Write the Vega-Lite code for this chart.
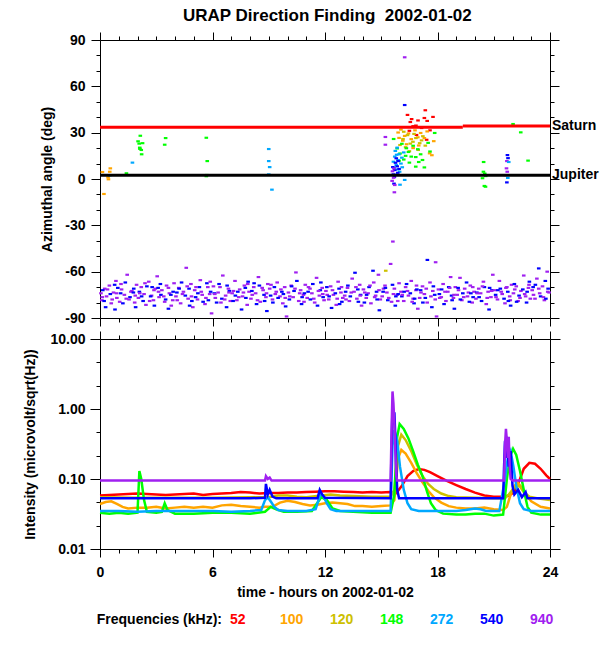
{
  "$schema": "https://vega.github.io/schema/vega-lite/v6.json",
  "autosize": {"type": "none"},
  "padding": {"left": 100, "top": 40, "right": 500, "bottom": 610},
  "title": {"text": "URAP Direction Finding \u00a02002-01-02", "anchor": "start", "frame": "group", "offset": 7, "dx": 83},
  "config": {
    "font": "Liberation Sans",
    "view": {"stroke": null},
    "axis": {
      "domainColor": "black", "tickColor": "black", "labelColor": "black", "titleColor": "black",
      "labelFont": "Liberation Sans", "titleFont": "Liberation Sans",
      "labelFontSize": 14, "titleFontSize": 14, "labelFontWeight": "bold", "titleFontWeight": "bold",
      "grid": false, "labelFlush": false, "labelOverlap": false, "domainWidth": 1, "tickWidth": 1
    },
    "title": {"font": "Liberation Sans", "fontSize": 17, "fontWeight": "bold", "color": "black"}
  },
  "bounds": "flush",
  "spacing": 21,
  "datasets": {
    "bodies": [
      {"body": "Saturn", "t0": 0, "t1": 19.35, "a": 33.5},
      {"body": "Saturn", "t0": 19.35, "t1": 24, "a": 34.3},
      {"body": "Jupiter", "t0": 0, "t1": 24, "a": 2.4}
    ],
    "freqs": [{"f": "52"}, {"f": "100"}, {"f": "120"}, {"f": "148"}, {"f": "272"}, {"f": "540"}, {"f": "940"}],
    "pts": [
      {"t":0.13,"a":4.5,"f":"100"},{"t":0.52,"a":4.7,"f":"100"},{"t":0.55,"a":6.9,"f":"100"},{"t":0.43,"a":1.1,"f":"100"},{"t":0.45,"a":-0.2,"f":"100"},{"t":0.21,"a":-9.7,"f":"100"},
      {"t":0.52,"a":2.3,"f":"272"},{"t":1.73,"a":10.6,"f":"272"},{"t":1.41,"a":3.7,"f":"148"},
      {"t":2.15,"a":28,"f":"148"},{"t":2.03,"a":24.4,"f":"148"},{"t":2.09,"a":22.9,"f":"148"},{"t":2.27,"a":23.2,"f":"148"},{"t":2.12,"a":20.3,"f":"148"},{"t":2.2,"a":18.8,"f":"148"},{"t":2.22,"a":16,"f":"148"},{"t":2.13,"a":19.5,"f":"148"},
      {"t":3.5,"a":26.5,"f":"148"},{"t":3.45,"a":22.2,"f":"148"},{"t":5.67,"a":26.7,"f":"148"},{"t":5.72,"a":11.6,"f":"148"},{"t":5.7,"a":2.6,"f":"148"},{"t":5.67,"a":1.8,"f":"148"},
      {"t":9.0,"a":19.4,"f":"272"},{"t":9.0,"a":11.6,"f":"272"},{"t":9.05,"a":7.7,"f":"272"},{"t":9.0,"a":3,"f":"272"},{"t":9.17,"a":-6.9,"f":"272"},
      {"t":15.22,"a":27.2,"f":"940"},{"t":15.22,"a":22.2,"f":"940"},
      {"t":16.4,"a":41.5,"f":"52"},{"t":16.62,"a":38.8,"f":"52"},{"t":16.96,"a":37.9,"f":"52"},{"t":17.35,"a":44.5,"f":"52"},{"t":17.45,"a":37.6,"f":"52"},{"t":16.55,"a":36.9,"f":"52"},{"t":16.85,"a":34.6,"f":"52"},{"t":17.76,"a":40.2,"f":"52"},{"t":16.5,"a":31.2,"f":"52"},{"t":16.88,"a":28.5,"f":"52"},{"t":17.42,"a":25.4,"f":"52"},{"t":17.3,"a":39.5,"f":"52"},{"t":16.7,"a":34.2,"f":"52"},{"t":17.15,"a":33.0,"f":"52"},{"t":17.6,"a":31.5,"f":"52"},
      {"t":15.9,"a":30.1,"f":"100"},{"t":16.05,"a":32.0,"f":"100"},{"t":16.25,"a":27.9,"f":"100"},{"t":16.45,"a":29.5,"f":"100"},{"t":16.6,"a":25.8,"f":"100"},{"t":16.8,"a":31.5,"f":"100"},{"t":16.95,"a":27.0,"f":"100"},{"t":17.1,"a":29.8,"f":"100"},{"t":17.3,"a":26.5,"f":"100"},{"t":17.58,"a":16.6,"f":"100"},{"t":17.7,"a":15.4,"f":"100"},{"t":17.8,"a":24.5,"f":"100"},{"t":16.35,"a":22.5,"f":"100"},{"t":16.15,"a":24.8,"f":"100"},{"t":17.0,"a":21.7,"f":"100"},{"t":16.7,"a":20.0,"f":"100"},{"t":17.45,"a":30.8,"f":"100"},{"t":15.95,"a":26.6,"f":"100"},
      {"t":16.16,"a":25.9,"f":"120"},{"t":16.69,"a":24.1,"f":"120"},{"t":17.22,"a":27.7,"f":"120"},{"t":16.97,"a":18.8,"f":"120"},{"t":16.4,"a":28.4,"f":"120"},{"t":16.55,"a":22.9,"f":"120"},{"t":16.3,"a":20.6,"f":"120"},{"t":16.85,"a":26.5,"f":"120"},{"t":17.05,"a":23.2,"f":"120"},{"t":16.0,"a":22.0,"f":"120"},{"t":16.75,"a":29.2,"f":"120"},{"t":17.35,"a":21.6,"f":"120"},{"t":16.2,"a":30.6,"f":"120"},{"t":16.5,"a":18.0,"f":"120"},{"t":17.15,"a":25.0,"f":"120"},{"t":15.24,"a":-59.4,"f":"120"},
      {"t":15.66,"a":25.9,"f":"148"},{"t":16.34,"a":19.9,"f":"148"},{"t":16.6,"a":14.5,"f":"148"},{"t":16.84,"a":14.2,"f":"148"},{"t":17.85,"a":29.8,"f":"148"},{"t":17.5,"a":23.4,"f":"148"},{"t":16.84,"a":8.0,"f":"148"},{"t":17.3,"a":7.5,"f":"148"},{"t":16.0,"a":16.5,"f":"148"},{"t":16.2,"a":12.6,"f":"148"},{"t":16.45,"a":17.5,"f":"148"},{"t":16.7,"a":21.5,"f":"148"},{"t":16.95,"a":19.3,"f":"148"},{"t":17.1,"a":16.0,"f":"148"},{"t":17.2,"a":12.3,"f":"148"},{"t":15.85,"a":19.8,"f":"148"},{"t":16.1,"a":22.8,"f":"148"},{"t":16.5,"a":10.6,"f":"148"},{"t":15.95,"a":11.8,"f":"148"},{"t":17.6,"a":17.8,"f":"148"},{"t":17.0,"a":11.0,"f":"148"},{"t":16.3,"a":15.0,"f":"148"},
      {"t":15.72,"a":14.5,"f":"272"},{"t":15.8,"a":9.0,"f":"272"},{"t":15.98,"a":4.7,"f":"272"},{"t":16.25,"a":-0.6,"f":"272"},{"t":15.75,"a":18.2,"f":"272"},{"t":15.85,"a":20.3,"f":"272"},{"t":15.9,"a":12.3,"f":"272"},{"t":16.05,"a":10.0,"f":"272"},{"t":15.7,"a":7.0,"f":"272"},{"t":15.95,"a":16.0,"f":"272"},{"t":16.1,"a":13.8,"f":"272"},{"t":15.78,"a":2.8,"f":"272"},{"t":15.88,"a":6.2,"f":"272"},{"t":16.12,"a":7.6,"f":"272"},{"t":15.65,"a":11.2,"f":"272"},{"t":16.0,"a":-3.7,"f":"272"},{"t":16.2,"a":17.2,"f":"272"},{"t":15.82,"a":15.7,"f":"272"},
      {"t":15.8,"a":13.4,"f":"540"},{"t":15.76,"a":10.5,"f":"540"},{"t":15.72,"a":5.8,"f":"540"},{"t":15.65,"a":3.0,"f":"540"},{"t":15.85,"a":8.2,"f":"540"},{"t":15.9,"a":11.6,"f":"540"},{"t":15.7,"a":1.4,"f":"540"},{"t":15.95,"a":6.5,"f":"540"},{"t":16.25,"a":47.9,"f":"540"},{"t":15.68,"a":-3.0,"f":"540"},{"t":15.62,"a":7.7,"f":"540"},{"t":15.88,"a":4.0,"f":"540"},
      {"t":15.6,"a":5.0,"f":"940"},{"t":15.66,"a":0.8,"f":"940"},{"t":15.72,"a":-3.9,"f":"940"},{"t":15.7,"a":-8.6,"f":"940"},{"t":15.62,"a":2.6,"f":"940"},{"t":15.68,"a":6.8,"f":"940"},{"t":15.58,"a":-1.2,"f":"940"},{"t":16.25,"a":78.8,"f":"940"},{"t":15.62,"a":-40.5,"f":"940"},
      {"t":22.03,"a":35.6,"f":"148"},{"t":22.44,"a":30.2,"f":"148"},{"t":22.83,"a":11.9,"f":"148"},{"t":20.46,"a":11.0,"f":"148"},{"t":20.45,"a":4.7,"f":"148"},{"t":20.57,"a":1.9,"f":"148"},{"t":20.4,"a":0.5,"f":"148"},{"t":20.5,"a":-4.5,"f":"148"},{"t":20.56,"a":-5.0,"f":"148"},{"t":20.52,"a":3.5,"f":"148"},
      {"t":21.73,"a":15.5,"f":"540"},{"t":21.7,"a":-2.2,"f":"540"},{"t":21.76,"a":13.5,"f":"540"},
      {"t":21.7,"a":11.6,"f":"940"},{"t":21.68,"a":6.9,"f":"940"},{"t":21.62,"a":2.5,"f":"940"},{"t":21.72,"a":4.7,"f":"940"},
      {"t":21.75,"a":0.7,"f":"272"},{"t":21.8,"a":11.0,"f":"272"},
      {"t":0.05,"a":-74,"f":"940"},{"t":0.1,"a":-78.5,"f":"940"},{"t":0.25,"a":-71,"f":"940"},{"t":0.35,"a":-76,"f":"940"},{"t":0.5,"a":-69,"f":"940"},{"t":0.6,"a":-80.5,"f":"940"},{"t":0.72,"a":-73.5,"f":"940"},{"t":0.85,"a":-66,"f":"940"},{"t":0.9,"a":-77,"f":"940"},
      {"t":0.15,"a":-72,"f":"540"},{"t":0.3,"a":-83,"f":"540"},{"t":0.55,"a":-74.5,"f":"540"},{"t":0.8,"a":-84.5,"f":"540"},{"t":0.95,"a":-70.5,"f":"540"},
      {"t":1.05,"a":-79.5,"f":"940"},{"t":1.15,"a":-71.5,"f":"940"},{"t":1.3,"a":-75,"f":"940"},{"t":1.45,"a":-62,"f":"940"},{"t":1.55,"a":-78,"f":"940"},{"t":1.7,"a":-72.5,"f":"940"},{"t":1.85,"a":-80,"f":"940"},{"t":1.95,"a":-68.5,"f":"940"},
      {"t":1.1,"a":-74,"f":"540"},{"t":1.35,"a":-67,"f":"540"},{"t":1.6,"a":-76.5,"f":"540"},{"t":1.8,"a":-71,"f":"540"},{"t":1.9,"a":-83,"f":"540"},
      {"t":2.05,"a":-77,"f":"940"},{"t":2.2,"a":-70,"f":"940"},{"t":2.35,"a":-74.5,"f":"940"},{"t":2.45,"a":-81.5,"f":"940"},{"t":2.6,"a":-66.5,"f":"940"},{"t":2.75,"a":-75.5,"f":"940"},{"t":2.85,"a":-78.5,"f":"940"},{"t":2.95,"a":-71,"f":"940"},
      {"t":2.1,"a":-73,"f":"540"},{"t":2.3,"a":-79,"f":"540"},{"t":2.5,"a":-69.5,"f":"540"},{"t":2.7,"a":-76,"f":"540"},{"t":2.9,"a":-82,"f":"540"},
      {"t":3.05,"a":-63,"f":"940"},{"t":3.15,"a":-76.5,"f":"940"},{"t":3.3,"a":-72,"f":"940"},{"t":3.45,"a":-79.5,"f":"940"},{"t":3.55,"a":-69,"f":"940"},{"t":3.7,"a":-74,"f":"940"},{"t":3.8,"a":-82,"f":"940"},{"t":3.95,"a":-67.5,"f":"940"},
      {"t":3.1,"a":-70.5,"f":"540"},{"t":3.25,"a":-75,"f":"540"},{"t":3.5,"a":-78,"f":"540"},{"t":3.65,"a":-84,"f":"540"},{"t":3.9,"a":-73,"f":"540"},
      {"t":4.05,"a":-76,"f":"940"},{"t":4.2,"a":-70.5,"f":"940"},{"t":4.3,"a":-80.5,"f":"940"},{"t":4.45,"a":-73,"f":"940"},{"t":4.6,"a":-57.5,"f":"940"},{"t":4.7,"a":-77.5,"f":"940"},{"t":4.85,"a":-68,"f":"940"},{"t":4.95,"a":-83,"f":"940"},
      {"t":4.1,"a":-73.5,"f":"540"},{"t":4.35,"a":-67,"f":"540"},{"t":4.55,"a":-75.5,"f":"540"},{"t":4.75,"a":-71,"f":"540"},{"t":4.9,"a":-79,"f":"540"},
      {"t":5.05,"a":-72,"f":"940"},{"t":5.2,"a":-78,"f":"940"},{"t":5.35,"a":-65.5,"f":"940"},{"t":5.45,"a":-75,"f":"940"},{"t":5.6,"a":-81,"f":"940"},{"t":5.75,"a":-70,"f":"940"},{"t":5.85,"a":-74.5,"f":"940"},{"t":5.95,"a":-87,"f":"940"},
      {"t":5.1,"a":-76.5,"f":"540"},{"t":5.3,"a":-70,"f":"540"},{"t":5.5,"a":-79.5,"f":"540"},{"t":5.7,"a":-67.5,"f":"540"},{"t":5.9,"a":-73,"f":"540"},
      {"t":6.05,"a":-69.5,"f":"940"},{"t":6.15,"a":-77,"f":"940"},{"t":6.3,"a":-73.5,"f":"940"},{"t":6.45,"a":-80,"f":"940"},{"t":6.55,"a":-62.5,"f":"940"},{"t":6.7,"a":-75.5,"f":"940"},{"t":6.85,"a":-71,"f":"940"},{"t":6.95,"a":-79,"f":"940"},
      {"t":6.1,"a":-74,"f":"540"},{"t":6.35,"a":-68,"f":"540"},{"t":6.5,"a":-77.5,"f":"540"},{"t":6.75,"a":-83,"f":"540"},{"t":6.9,"a":-72.5,"f":"540"},
      {"t":7.05,"a":-74,"f":"940"},{"t":7.2,"a":-66,"f":"940"},{"t":7.3,"a":-78.5,"f":"940"},{"t":7.45,"a":-71.5,"f":"940"},{"t":7.6,"a":-76,"f":"940"},{"t":7.7,"a":-69,"f":"940"},{"t":7.85,"a":-81.5,"f":"940"},{"t":7.95,"a":-73,"f":"940"},
      {"t":7.1,"a":-79,"f":"540"},{"t":7.35,"a":-73,"f":"540"},{"t":7.55,"a":-84.5,"f":"540"},{"t":7.75,"a":-70.5,"f":"540"},{"t":7.9,"a":-66.5,"f":"540"},
      {"t":8.05,"a":-77.5,"f":"940"},{"t":8.2,"a":-70,"f":"940"},{"t":8.3,"a":-74,"f":"940"},{"t":8.45,"a":-63.5,"f":"940"},{"t":8.55,"a":-79.5,"f":"940"},{"t":8.7,"a":-72,"f":"940"},{"t":8.85,"a":-76.5,"f":"940"},{"t":8.95,"a":-68,"f":"940"},
      {"t":8.1,"a":-72.5,"f":"540"},{"t":8.35,"a":-81,"f":"540"},{"t":8.5,"a":-69,"f":"540"},{"t":8.75,"a":-75,"f":"540"},{"t":8.9,"a":-85.5,"f":"540"},
      {"t":9.05,"a":-71,"f":"940"},{"t":9.2,"a":-78,"f":"940"},{"t":9.35,"a":-74.5,"f":"940"},{"t":9.45,"a":-67,"f":"940"},{"t":9.6,"a":-76,"f":"940"},{"t":9.75,"a":-80.5,"f":"940"},{"t":9.85,"a":-70,"f":"940"},{"t":9.95,"a":-89,"f":"940"},
      {"t":9.1,"a":-75.5,"f":"540"},{"t":9.3,"a":-70,"f":"540"},{"t":9.5,"a":-77,"f":"540"},{"t":9.7,"a":-73,"f":"540"},{"t":9.9,"a":-82.5,"f":"540"},
      {"t":10.05,"a":-73.5,"f":"940"},{"t":10.2,"a":-69,"f":"940"},{"t":10.3,"a":-76.5,"f":"940"},{"t":10.45,"a":-60.5,"f":"940"},{"t":10.6,"a":-79,"f":"940"},{"t":10.7,"a":-72,"f":"940"},{"t":10.85,"a":-75,"f":"940"},{"t":10.95,"a":-68.5,"f":"940"},
      {"t":10.1,"a":-78,"f":"540"},{"t":10.35,"a":-72.5,"f":"540"},{"t":10.5,"a":-66,"f":"540"},{"t":10.75,"a":-81,"f":"540"},{"t":10.9,"a":-74,"f":"540"},
      {"t":11.05,"a":-77,"f":"940"},{"t":11.2,"a":-71,"f":"940"},{"t":11.3,"a":-74,"f":"940"},{"t":11.45,"a":-80,"f":"940"},{"t":11.55,"a":-64,"f":"940"},{"t":11.7,"a":-75.5,"f":"940"},{"t":11.85,"a":-70.5,"f":"940"},{"t":11.95,"a":-78.5,"f":"940"},
      {"t":11.1,"a":-73,"f":"540"},{"t":11.35,"a":-68,"f":"540"},{"t":11.6,"a":-82,"f":"540"},{"t":11.75,"a":-72,"f":"540"},{"t":11.9,"a":-76.5,"f":"540"},
      {"t":12.05,"a":-72.5,"f":"940"},{"t":12.2,"a":-78,"f":"940"},{"t":12.3,"a":-69.5,"f":"940"},{"t":12.45,"a":-75,"f":"940"},{"t":12.6,"a":-81.5,"f":"940"},{"t":12.7,"a":-66.5,"f":"940"},{"t":12.85,"a":-73.5,"f":"940"},{"t":12.95,"a":-77,"f":"940"},
      {"t":12.1,"a":-70,"f":"540"},{"t":12.35,"a":-83.5,"f":"540"},{"t":12.55,"a":-74,"f":"540"},{"t":12.75,"a":-71,"f":"540"},{"t":12.9,"a":-79.5,"f":"540"},
      {"t":13.05,"a":-75.5,"f":"940"},{"t":13.2,"a":-70.5,"f":"940"},{"t":13.3,"a":-79,"f":"940"},{"t":13.45,"a":-64.5,"f":"940"},{"t":13.55,"a":-73,"f":"940"},{"t":13.7,"a":-77.5,"f":"940"},{"t":13.85,"a":-68.5,"f":"940"},{"t":13.95,"a":-82,"f":"940"},
      {"t":13.1,"a":-73,"f":"540"},{"t":13.35,"a":-76,"f":"540"},{"t":13.6,"a":-60.7,"f":"540"},{"t":13.75,"a":-71.5,"f":"540"},{"t":13.9,"a":-75,"f":"540"},
      {"t":14.05,"a":-71.5,"f":"940"},{"t":14.2,"a":-77,"f":"940"},{"t":14.3,"a":-74,"f":"940"},{"t":14.45,"a":-80.5,"f":"940"},{"t":14.6,"a":-67,"f":"940"},{"t":14.7,"a":-75.5,"f":"940"},{"t":14.85,"a":-62,"f":"940"},{"t":14.95,"a":-78,"f":"940"},
      {"t":14.1,"a":-80,"f":"540"},{"t":14.35,"a":-70,"f":"540"},{"t":14.56,"a":-59.4,"f":"540"},{"t":14.75,"a":-73,"f":"540"},{"t":14.9,"a":-85,"f":"540"},
      {"t":15.05,"a":-76,"f":"940"},{"t":15.2,"a":-69,"f":"940"},{"t":15.3,"a":-73.5,"f":"940"},{"t":15.5,"a":-55,"f":"940"},{"t":15.55,"a":-79.5,"f":"940"},{"t":15.7,"a":-71,"f":"940"},{"t":15.85,"a":-75,"f":"940"},{"t":15.95,"a":-67.5,"f":"940"},
      {"t":15.1,"a":-73,"f":"540"},{"t":15.35,"a":-78.5,"f":"540"},{"t":15.6,"a":-68.5,"f":"540"},{"t":15.75,"a":-82,"f":"540"},{"t":15.9,"a":-74.5,"f":"540"},
      {"t":16.05,"a":-73,"f":"940"},{"t":16.2,"a":-79,"f":"940"},{"t":16.3,"a":-70,"f":"940"},{"t":16.45,"a":-75.5,"f":"940"},{"t":16.6,"a":-66,"f":"940"},{"t":16.7,"a":-77.5,"f":"940"},{"t":16.85,"a":-72,"f":"940"},{"t":16.95,"a":-84,"f":"940"},
      {"t":16.1,"a":-76,"f":"540"},{"t":16.35,"a":-68,"f":"540"},{"t":16.55,"a":-74,"f":"540"},{"t":16.75,"a":-80.5,"f":"540"},{"t":16.9,"a":-71.5,"f":"540"},
      {"t":17.05,"a":-77,"f":"940"},{"t":17.2,"a":-69.5,"f":"940"},{"t":17.3,"a":-74.5,"f":"940"},{"t":17.45,"a":-80,"f":"940"},{"t":17.6,"a":-67,"f":"940"},{"t":17.75,"a":-72.5,"f":"940"},{"t":17.9,"a":-53.9,"f":"940"},{"t":17.95,"a":-89,"f":"940"},
      {"t":17.1,"a":-72,"f":"540"},{"t":17.35,"a":-77,"f":"540"},{"t":17.46,"a":-52.4,"f":"540"},{"t":17.7,"a":-83,"f":"540"},{"t":17.85,"a":-75,"f":"540"},
      {"t":18.05,"a":-71.5,"f":"940"},{"t":18.2,"a":-76.5,"f":"940"},{"t":18.3,"a":-68,"f":"940"},{"t":18.45,"a":-79,"f":"940"},{"t":18.55,"a":-73,"f":"940"},{"t":18.7,"a":-63.5,"f":"940"},{"t":18.85,"a":-77,"f":"940"},{"t":18.95,"a":-70,"f":"940"},
      {"t":18.1,"a":-74.5,"f":"540"},{"t":18.35,"a":-81,"f":"540"},{"t":18.6,"a":-70,"f":"540"},{"t":18.75,"a":-75.5,"f":"540"},{"t":18.9,"a":-84,"f":"540"},
      {"t":19.05,"a":-75,"f":"940"},{"t":19.2,"a":-64,"f":"940"},{"t":19.3,"a":-78.5,"f":"940"},{"t":19.45,"a":-71,"f":"940"},{"t":19.6,"a":-76,"f":"940"},{"t":19.75,"a":-69,"f":"940"},{"t":19.85,"a":-80,"f":"940"},{"t":19.95,"a":-73,"f":"940"},
      {"t":19.1,"a":-70.5,"f":"540"},{"t":19.35,"a":-74,"f":"540"},{"t":19.55,"a":-67,"f":"540"},{"t":19.7,"a":-79.5,"f":"540"},{"t":19.9,"a":-76.5,"f":"540"},
      {"t":20.05,"a":-77.5,"f":"940"},{"t":20.2,"a":-71,"f":"940"},{"t":20.3,"a":-74,"f":"940"},{"t":20.45,"a":-66.5,"f":"940"},{"t":20.6,"a":-81,"f":"940"},{"t":20.7,"a":-73,"f":"940"},{"t":20.85,"a":-76.5,"f":"940"},{"t":20.95,"a":-62,"f":"940"},
      {"t":20.1,"a":-73.5,"f":"540"},{"t":20.35,"a":-79,"f":"540"},{"t":20.5,"a":-70,"f":"540"},{"t":20.75,"a":-84.5,"f":"540"},{"t":20.9,"a":-72,"f":"540"},
      {"t":21.05,"a":-72,"f":"940"},{"t":21.2,"a":-78,"f":"940"},{"t":21.3,"a":-66,"f":"940"},{"t":21.45,"a":-74.5,"f":"940"},{"t":21.6,"a":-80.5,"f":"940"},{"t":21.7,"a":-70,"f":"940"},{"t":21.85,"a":-76,"f":"940"},{"t":21.95,"a":-68.5,"f":"940"},
      {"t":21.1,"a":-75,"f":"540"},{"t":21.35,"a":-71,"f":"540"},{"t":21.55,"a":-77.5,"f":"540"},{"t":21.75,"a":-73,"f":"540"},{"t":21.9,"a":-82,"f":"540"},
      {"t":22.05,"a":-74,"f":"940"},{"t":22.2,"a":-69.5,"f":"940"},{"t":22.3,"a":-79,"f":"940"},{"t":22.45,"a":-72.5,"f":"940"},{"t":22.6,"a":-62.5,"f":"940"},{"t":22.7,"a":-76,"f":"940"},{"t":22.85,"a":-70.5,"f":"940"},{"t":22.95,"a":-77.5,"f":"940"},
      {"t":22.1,"a":-68,"f":"540"},{"t":22.35,"a":-75.5,"f":"540"},{"t":22.55,"a":-71.5,"f":"540"},{"t":22.75,"a":-80,"f":"540"},{"t":22.9,"a":-66.5,"f":"540"},
      {"t":23.05,"a":-72,"f":"940"},{"t":23.2,"a":-77.5,"f":"940"},{"t":23.3,"a":-64.5,"f":"940"},{"t":23.45,"a":-74,"f":"940"},{"t":23.6,"a":-69.5,"f":"940"},{"t":23.7,"a":-78.5,"f":"940"},{"t":23.85,"a":-60,"f":"940"},{"t":23.95,"a":-73.5,"f":"940"},
      {"t":23.1,"a":-70,"f":"540"},{"t":23.4,"a":-57.9,"f":"540"},{"t":23.5,"a":-76,"f":"540"},{"t":23.75,"a":-66,"f":"540"},{"t":23.9,"a":-71,"f":"540"},
      {"t":0.12,"a":-76.5,"f":"940"},{"t":0.4,"a":-71.5,"f":"940"},{"t":0.65,"a":-78,"f":"940"},{"t":0.88,"a":-74,"f":"940"},{"t":0.22,"a":-79,"f":"540"},{"t":0.78,"a":-68.5,"f":"540"},
      {"t":1.12,"a":-68,"f":"940"},{"t":1.4,"a":-77.5,"f":"940"},{"t":1.65,"a":-73,"f":"940"},{"t":1.88,"a":-75.5,"f":"940"},{"t":1.22,"a":-80.5,"f":"540"},{"t":1.78,"a":-73.5,"f":"540"},
      {"t":2.12,"a":-74,"f":"940"},{"t":2.4,"a":-67.5,"f":"940"},{"t":2.65,"a":-79,"f":"940"},{"t":2.88,"a":-72,"f":"940"},{"t":2.22,"a":-76,"f":"540"},{"t":2.78,"a":-70,"f":"540"},
      {"t":3.12,"a":-73,"f":"940"},{"t":3.4,"a":-76,"f":"940"},{"t":3.65,"a":-70.5,"f":"940"},{"t":3.88,"a":-78.5,"f":"940"},{"t":3.22,"a":-68,"f":"540"},{"t":3.78,"a":-75,"f":"540"},
      {"t":4.12,"a":-78.5,"f":"940"},{"t":4.4,"a":-74.5,"f":"940"},{"t":4.65,"a":-69.5,"f":"940"},{"t":4.88,"a":-76,"f":"940"},{"t":4.22,"a":-71,"f":"540"},{"t":4.78,"a":-82,"f":"540"},
      {"t":5.12,"a":-70,"f":"940"},{"t":5.4,"a":-73,"f":"940"},{"t":5.65,"a":-77,"f":"940"},{"t":5.88,"a":-66.5,"f":"940"},{"t":5.22,"a":-74,"f":"540"},{"t":5.78,"a":-78.5,"f":"540"},
      {"t":6.12,"a":-74.5,"f":"940"},{"t":6.4,"a":-70,"f":"940"},{"t":6.65,"a":-78,"f":"940"},{"t":6.88,"a":-73.5,"f":"940"},{"t":6.22,"a":-80,"f":"540"},{"t":6.78,"a":-69,"f":"540"},
      {"t":7.12,"a":-72.5,"f":"940"},{"t":7.4,"a":-76.5,"f":"940"},{"t":7.65,"a":-73.5,"f":"940"},{"t":7.88,"a":-68,"f":"940"},{"t":7.22,"a":-75.5,"f":"540"},{"t":7.78,"a":-77,"f":"540"},
      {"t":8.12,"a":-75,"f":"940"},{"t":8.4,"a":-78.5,"f":"940"},{"t":8.65,"a":-70.5,"f":"940"},{"t":8.88,"a":-74,"f":"940"},{"t":8.22,"a":-67.5,"f":"540"},{"t":8.78,"a":-79,"f":"540"},
      {"t":9.12,"a":-68.5,"f":"940"},{"t":9.4,"a":-73,"f":"940"},{"t":9.65,"a":-71.5,"f":"940"},{"t":9.88,"a":-77,"f":"940"},{"t":9.22,"a":-80,"f":"540"},{"t":9.78,"a":-74.5,"f":"540"},
      {"t":10.12,"a":-76,"f":"940"},{"t":10.4,"a":-71,"f":"940"},{"t":10.65,"a":-74,"f":"940"},{"t":10.88,"a":-79.5,"f":"940"},{"t":10.22,"a":-69.5,"f":"540"},{"t":10.78,"a":-76.5,"f":"540"},
      {"t":11.12,"a":-70,"f":"940"},{"t":11.4,"a":-77.5,"f":"940"},{"t":11.65,"a":-72.5,"f":"940"},{"t":11.88,"a":-74.5,"f":"940"},{"t":11.22,"a":-78,"f":"540"},{"t":11.78,"a":-67,"f":"540"},
      {"t":12.12,"a":-75,"f":"940"},{"t":12.4,"a":-72,"f":"940"},{"t":12.65,"a":-77.5,"f":"940"},{"t":12.88,"a":-70,"f":"940"},{"t":12.22,"a":-76,"f":"540"},{"t":12.78,"a":-81,"f":"540"},
      {"t":13.12,"a":-78,"f":"940"},{"t":13.4,"a":-73.5,"f":"940"},{"t":13.65,"a":-70,"f":"940"},{"t":13.88,"a":-75.5,"f":"940"},{"t":13.22,"a":-69,"f":"540"},{"t":13.78,"a":-79.5,"f":"540"},
      {"t":14.12,"a":-73.5,"f":"940"},{"t":14.4,"a":-69,"f":"940"},{"t":14.65,"a":-76.5,"f":"940"},{"t":14.88,"a":-72,"f":"940"},{"t":14.22,"a":-75,"f":"540"},{"t":14.78,"a":-78,"f":"540"},
      {"t":15.12,"a":-71,"f":"940"},{"t":15.4,"a":-77,"f":"940"},{"t":15.65,"a":-74.5,"f":"940"},{"t":15.88,"a":-79,"f":"940"},{"t":15.22,"a":-70.5,"f":"540"},{"t":15.78,"a":-76,"f":"540"},
      {"t":16.12,"a":-75,"f":"940"},{"t":16.4,"a":-72.5,"f":"940"},{"t":16.65,"a":-79.5,"f":"940"},{"t":16.88,"a":-69,"f":"940"},{"t":16.22,"a":-73,"f":"540"},{"t":16.78,"a":-77.5,"f":"540"},
      {"t":17.12,"a":-73.5,"f":"940"},{"t":17.4,"a":-71,"f":"940"},{"t":17.65,"a":-76,"f":"940"},{"t":17.88,"a":-78,"f":"940"},{"t":17.22,"a":-80,"f":"540"},{"t":17.78,"a":-69.5,"f":"540"},
      {"t":18.12,"a":-77,"f":"940"},{"t":18.4,"a":-73,"f":"940"},{"t":18.65,"a":-70.5,"f":"940"},{"t":18.88,"a":-75,"f":"940"},{"t":18.22,"a":-71.5,"f":"540"},{"t":18.78,"a":-78.5,"f":"540"},
      {"t":19.12,"a":-72,"f":"940"},{"t":19.4,"a":-76.5,"f":"940"},{"t":19.65,"a":-73.5,"f":"940"},{"t":19.88,"a":-70,"f":"940"},{"t":19.22,"a":-78,"f":"540"},{"t":19.78,"a":-74,"f":"540"},
      {"t":20.12,"a":-74,"f":"940"},{"t":20.4,"a":-69.5,"f":"940"},{"t":20.65,"a":-77,"f":"940"},{"t":20.88,"a":-72.5,"f":"940"},{"t":20.22,"a":-76.5,"f":"540"},{"t":20.78,"a":-70.5,"f":"540"},
      {"t":21.12,"a":-76.5,"f":"940"},{"t":21.4,"a":-73,"f":"940"},{"t":21.65,"a":-70.5,"f":"940"},{"t":21.88,"a":-78.5,"f":"940"},{"t":21.22,"a":-72,"f":"540"},{"t":21.78,"a":-79,"f":"540"},
      {"t":22.12,"a":-71.5,"f":"940"},{"t":22.4,"a":-77,"f":"940"},{"t":22.65,"a":-74.5,"f":"940"},{"t":22.88,"a":-68.5,"f":"940"},{"t":22.22,"a":-79.5,"f":"540"},{"t":22.78,"a":-73,"f":"540"},
      {"t":23.12,"a":-75,"f":"940"},{"t":23.4,"a":-71,"f":"940"},{"t":23.65,"a":-76.5,"f":"940"},{"t":23.88,"a":-73,"f":"940"},{"t":23.22,"a":-68.5,"f":"540"},{"t":23.78,"a":-77.5,"f":"540"}
    ],
    "flux": [
      {"t":0,"v":0.058,"f":"52"},{"t":0.5,"v":0.059,"f":"52"},{"t":1,"v":0.06,"f":"52"},{"t":1.5,"v":0.061,"f":"52"},{"t":2,"v":0.062,"f":"52"},{"t":2.5,"v":0.061,"f":"52"},{"t":3,"v":0.06,"f":"52"},{"t":3.5,"v":0.059,"f":"52"},{"t":4,"v":0.06,"f":"52"},{"t":4.5,"v":0.061,"f":"52"},{"t":5,"v":0.062,"f":"52"},{"t":5.5,"v":0.059,"f":"52"},{"t":6,"v":0.061,"f":"52"},{"t":6.5,"v":0.062,"f":"52"},{"t":7,"v":0.063,"f":"52"},{"t":7.5,"v":0.065,"f":"52"},{"t":8,"v":0.064,"f":"52"},{"t":8.5,"v":0.062,"f":"52"},{"t":9,"v":0.063,"f":"52"},{"t":9.5,"v":0.063,"f":"52"},{"t":10,"v":0.064,"f":"52"},{"t":10.5,"v":0.064,"f":"52"},{"t":11,"v":0.065,"f":"52"},{"t":11.5,"v":0.066,"f":"52"},{"t":12,"v":0.067,"f":"52"},{"t":12.5,"v":0.067,"f":"52"},{"t":13,"v":0.066,"f":"52"},{"t":13.5,"v":0.065,"f":"52"},{"t":14,"v":0.064,"f":"52"},{"t":14.5,"v":0.065,"f":"52"},{"t":15,"v":0.064,"f":"52"},{"t":15.5,"v":0.065,"f":"52"},{"t":15.8,"v":0.063,"f":"52"},{"t":16.1,"v":0.08,"f":"52"},{"t":16.4,"v":0.11,"f":"52"},{"t":16.7,"v":0.13,"f":"52"},{"t":17.0,"v":0.139,"f":"52"},{"t":17.3,"v":0.135,"f":"52"},{"t":17.6,"v":0.125,"f":"52"},{"t":18,"v":0.11,"f":"52"},{"t":18.5,"v":0.094,"f":"52"},{"t":19,"v":0.082,"f":"52"},{"t":19.5,"v":0.072,"f":"52"},{"t":20,"v":0.064,"f":"52"},{"t":20.5,"v":0.058,"f":"52"},{"t":21,"v":0.056,"f":"52"},{"t":21.5,"v":0.056,"f":"52"},{"t":21.8,"v":0.058,"f":"52"},{"t":22.1,"v":0.065,"f":"52"},{"t":22.4,"v":0.1,"f":"52"},{"t":22.6,"v":0.14,"f":"52"},{"t":22.9,"v":0.17,"f":"52"},{"t":23.2,"v":0.165,"f":"52"},{"t":23.5,"v":0.14,"f":"52"},{"t":23.8,"v":0.113,"f":"52"},{"t":24,"v":0.1,"f":"52"},
      {"t":0,"v":0.044,"f":"100"},{"t":0.3,"v":0.047,"f":"100"},{"t":0.6,"v":0.048,"f":"100"},{"t":0.9,"v":0.044,"f":"100"},{"t":1.2,"v":0.04,"f":"100"},{"t":1.5,"v":0.038,"f":"100"},{"t":2,"v":0.039,"f":"100"},{"t":2.5,"v":0.039,"f":"100"},{"t":3,"v":0.04,"f":"100"},{"t":3.5,"v":0.038,"f":"100"},{"t":4,"v":0.039,"f":"100"},{"t":4.5,"v":0.04,"f":"100"},{"t":5,"v":0.039,"f":"100"},{"t":5.5,"v":0.04,"f":"100"},{"t":6,"v":0.039,"f":"100"},{"t":6.5,"v":0.042,"f":"100"},{"t":7,"v":0.043,"f":"100"},{"t":7.5,"v":0.041,"f":"100"},{"t":8,"v":0.04,"f":"100"},{"t":8.5,"v":0.039,"f":"100"},{"t":8.8,"v":0.04,"f":"100"},{"t":9.2,"v":0.04,"f":"100"},{"t":9.6,"v":0.046,"f":"100"},{"t":10,"v":0.049,"f":"100"},{"t":10.4,"v":0.047,"f":"100"},{"t":10.8,"v":0.044,"f":"100"},{"t":11.2,"v":0.042,"f":"100"},{"t":11.6,"v":0.043,"f":"100"},{"t":12,"v":0.045,"f":"100"},{"t":12.4,"v":0.046,"f":"100"},{"t":12.8,"v":0.045,"f":"100"},{"t":13.2,"v":0.044,"f":"100"},{"t":13.6,"v":0.041,"f":"100"},{"t":14,"v":0.041,"f":"100"},{"t":14.5,"v":0.04,"f":"100"},{"t":15,"v":0.041,"f":"100"},{"t":15.5,"v":0.042,"f":"100"},{"t":15.7,"v":0.05,"f":"100"},{"t":15.9,"v":0.2,"f":"100"},{"t":16.07,"v":0.26,"f":"100"},{"t":16.3,"v":0.23,"f":"100"},{"t":16.6,"v":0.17,"f":"100"},{"t":16.9,"v":0.12,"f":"100"},{"t":17.2,"v":0.09,"f":"100"},{"t":17.5,"v":0.068,"f":"100"},{"t":17.8,"v":0.055,"f":"100"},{"t":18.2,"v":0.046,"f":"100"},{"t":18.6,"v":0.041,"f":"100"},{"t":19,"v":0.039,"f":"100"},{"t":19.5,"v":0.038,"f":"100"},{"t":20,"v":0.038,"f":"100"},{"t":20.5,"v":0.039,"f":"100"},{"t":21,"v":0.037,"f":"100"},{"t":21.5,"v":0.036,"f":"100"},{"t":21.7,"v":0.04,"f":"100"},{"t":21.9,"v":0.06,"f":"100"},{"t":22.1,"v":0.08,"f":"100"},{"t":22.3,"v":0.088,"f":"100"},{"t":22.5,"v":0.075,"f":"100"},{"t":22.7,"v":0.06,"f":"100"},{"t":23,"v":0.048,"f":"100"},{"t":23.5,"v":0.04,"f":"100"},{"t":24,"v":0.038,"f":"100"},
      {"t":0,"v":0.055,"f":"120"},{"t":2,"v":0.054,"f":"120"},{"t":4,"v":0.054,"f":"120"},{"t":6,"v":0.054,"f":"120"},{"t":8,"v":0.055,"f":"120"},{"t":9,"v":0.055,"f":"120"},{"t":9.5,"v":0.058,"f":"120"},{"t":10,"v":0.058,"f":"120"},{"t":10.5,"v":0.056,"f":"120"},{"t":11,"v":0.055,"f":"120"},{"t":11.8,"v":0.058,"f":"120"},{"t":12.3,"v":0.06,"f":"120"},{"t":12.8,"v":0.058,"f":"120"},{"t":13.5,"v":0.057,"f":"120"},{"t":14.5,"v":0.056,"f":"120"},{"t":15.5,"v":0.056,"f":"120"},{"t":15.7,"v":0.07,"f":"120"},{"t":15.9,"v":0.3,"f":"120"},{"t":16.07,"v":0.43,"f":"120"},{"t":16.3,"v":0.36,"f":"120"},{"t":16.6,"v":0.25,"f":"120"},{"t":16.9,"v":0.16,"f":"120"},{"t":17.2,"v":0.11,"f":"120"},{"t":17.5,"v":0.085,"f":"120"},{"t":17.8,"v":0.072,"f":"120"},{"t":18.2,"v":0.062,"f":"120"},{"t":18.6,"v":0.057,"f":"120"},{"t":19,"v":0.055,"f":"120"},{"t":20,"v":0.054,"f":"120"},{"t":21,"v":0.053,"f":"120"},{"t":21.6,"v":0.053,"f":"120"},{"t":21.8,"v":0.06,"f":"120"},{"t":22.0,"v":0.07,"f":"120"},{"t":22.2,"v":0.08,"f":"120"},{"t":22.4,"v":0.078,"f":"120"},{"t":22.6,"v":0.065,"f":"120"},{"t":22.9,"v":0.056,"f":"120"},{"t":23.5,"v":0.052,"f":"120"},{"t":24,"v":0.05,"f":"120"},
      {"t":0,"v":0.033,"f":"148"},{"t":0.5,"v":0.032,"f":"148"},{"t":1,"v":0.033,"f":"148"},{"t":1.5,"v":0.032,"f":"148"},{"t":2.0,"v":0.033,"f":"148"},{"t":2.1,"v":0.13,"f":"148"},{"t":2.2,"v":0.1,"f":"148"},{"t":2.35,"v":0.05,"f":"148"},{"t":2.5,"v":0.034,"f":"148"},{"t":3,"v":0.033,"f":"148"},{"t":3.3,"v":0.034,"f":"148"},{"t":3.45,"v":0.045,"f":"148"},{"t":3.6,"v":0.036,"f":"148"},{"t":4,"v":0.032,"f":"148"},{"t":5,"v":0.032,"f":"148"},{"t":6,"v":0.033,"f":"148"},{"t":7,"v":0.033,"f":"148"},{"t":8,"v":0.032,"f":"148"},{"t":8.8,"v":0.034,"f":"148"},{"t":9.1,"v":0.04,"f":"148"},{"t":9.4,"v":0.037,"f":"148"},{"t":9.8,"v":0.034,"f":"148"},{"t":10.5,"v":0.034,"f":"148"},{"t":11.3,"v":0.035,"f":"148"},{"t":11.8,"v":0.055,"f":"148"},{"t":12.1,"v":0.05,"f":"148"},{"t":12.4,"v":0.038,"f":"148"},{"t":12.8,"v":0.035,"f":"148"},{"t":13.5,"v":0.034,"f":"148"},{"t":14.5,"v":0.033,"f":"148"},{"t":15.5,"v":0.033,"f":"148"},{"t":15.7,"v":0.06,"f":"148"},{"t":15.85,"v":0.4,"f":"148"},{"t":15.98,"v":0.61,"f":"148"},{"t":16.2,"v":0.52,"f":"148"},{"t":16.45,"v":0.38,"f":"148"},{"t":16.7,"v":0.25,"f":"148"},{"t":16.95,"v":0.16,"f":"148"},{"t":17.2,"v":0.11,"f":"148"},{"t":17.45,"v":0.065,"f":"148"},{"t":17.65,"v":0.045,"f":"148"},{"t":17.9,"v":0.036,"f":"148"},{"t":18.3,"v":0.032,"f":"148"},{"t":19,"v":0.031,"f":"148"},{"t":19.5,"v":0.031,"f":"148"},{"t":20,"v":0.032,"f":"148"},{"t":20.5,"v":0.032,"f":"148"},{"t":21,"v":0.03,"f":"148"},{"t":21.5,"v":0.031,"f":"148"},{"t":21.7,"v":0.1,"f":"148"},{"t":21.85,"v":0.2,"f":"148"},{"t":22.03,"v":0.27,"f":"148"},{"t":22.2,"v":0.22,"f":"148"},{"t":22.4,"v":0.13,"f":"148"},{"t":22.6,"v":0.07,"f":"148"},{"t":22.8,"v":0.04,"f":"148"},{"t":23,"v":0.033,"f":"148"},{"t":23.5,"v":0.031,"f":"148"},{"t":24,"v":0.031,"f":"148"},
      {"t":0,"v":0.035,"f":"272"},{"t":1,"v":0.035,"f":"272"},{"t":2,"v":0.034,"f":"272"},{"t":3,"v":0.035,"f":"272"},{"t":4,"v":0.035,"f":"272"},{"t":5,"v":0.035,"f":"272"},{"t":6,"v":0.035,"f":"272"},{"t":7,"v":0.034,"f":"272"},{"t":8,"v":0.035,"f":"272"},{"t":8.6,"v":0.036,"f":"272"},{"t":8.8,"v":0.05,"f":"272"},{"t":8.95,"v":0.055,"f":"272"},{"t":9.1,"v":0.048,"f":"272"},{"t":9.3,"v":0.04,"f":"272"},{"t":9.5,"v":0.036,"f":"272"},{"t":10,"v":0.035,"f":"272"},{"t":11,"v":0.035,"f":"272"},{"t":11.5,"v":0.037,"f":"272"},{"t":11.75,"v":0.06,"f":"272"},{"t":11.9,"v":0.058,"f":"272"},{"t":12.1,"v":0.045,"f":"272"},{"t":12.3,"v":0.037,"f":"272"},{"t":12.6,"v":0.035,"f":"272"},{"t":13.5,"v":0.035,"f":"272"},{"t":14.5,"v":0.035,"f":"272"},{"t":15.5,"v":0.035,"f":"272"},{"t":15.6,"v":0.3,"f":"272"},{"t":15.7,"v":0.5,"f":"272"},{"t":15.85,"v":0.35,"f":"272"},{"t":16.0,"v":0.15,"f":"272"},{"t":16.2,"v":0.07,"f":"272"},{"t":16.4,"v":0.045,"f":"272"},{"t":16.6,"v":0.037,"f":"272"},{"t":17,"v":0.035,"f":"272"},{"t":18,"v":0.035,"f":"272"},{"t":19,"v":0.035,"f":"272"},{"t":19.5,"v":0.036,"f":"272"},{"t":20,"v":0.038,"f":"272"},{"t":20.3,"v":0.037,"f":"272"},{"t":20.6,"v":0.035,"f":"272"},{"t":21.3,"v":0.035,"f":"272"},{"t":21.6,"v":0.1,"f":"272"},{"t":21.75,"v":0.2,"f":"272"},{"t":21.9,"v":0.25,"f":"272"},{"t":22.05,"v":0.15,"f":"272"},{"t":22.2,"v":0.08,"f":"272"},{"t":22.4,"v":0.045,"f":"272"},{"t":22.6,"v":0.037,"f":"272"},{"t":23,"v":0.035,"f":"272"},{"t":24,"v":0.035,"f":"272"},
      {"t":0,"v":0.053,"f":"540"},{"t":2,"v":0.053,"f":"540"},{"t":4,"v":0.053,"f":"540"},{"t":6,"v":0.053,"f":"540"},{"t":8,"v":0.053,"f":"540"},{"t":8.8,"v":0.054,"f":"540"},{"t":8.85,"v":0.085,"f":"540"},{"t":8.95,"v":0.06,"f":"540"},{"t":9.05,"v":0.07,"f":"540"},{"t":9.2,"v":0.056,"f":"540"},{"t":9.4,"v":0.053,"f":"540"},{"t":11.6,"v":0.053,"f":"540"},{"t":11.72,"v":0.07,"f":"540"},{"t":11.85,"v":0.06,"f":"540"},{"t":12.0,"v":0.054,"f":"540"},{"t":15.5,"v":0.053,"f":"540"},{"t":15.55,"v":0.3,"f":"540"},{"t":15.6,"v":1.05,"f":"540"},{"t":15.65,"v":0.6,"f":"540"},{"t":15.7,"v":0.9,"f":"540"},{"t":15.75,"v":0.4,"f":"540"},{"t":15.8,"v":0.15,"f":"540"},{"t":15.85,"v":0.07,"f":"540"},{"t":15.95,"v":0.053,"f":"540"},{"t":21.5,"v":0.053,"f":"540"},{"t":21.55,"v":0.15,"f":"540"},{"t":21.6,"v":0.35,"f":"540"},{"t":21.65,"v":0.2,"f":"540"},{"t":21.7,"v":0.4,"f":"540"},{"t":21.8,"v":0.15,"f":"540"},{"t":21.9,"v":0.25,"f":"540"},{"t":22.0,"v":0.08,"f":"540"},{"t":22.1,"v":0.06,"f":"540"},{"t":22.3,"v":0.07,"f":"540"},{"t":22.5,"v":0.055,"f":"540"},{"t":22.7,"v":0.065,"f":"540"},{"t":22.8,"v":0.053,"f":"540"},{"t":24,"v":0.053,"f":"540"},
      {"t":0,"v":0.095,"f":"940"},{"t":8.8,"v":0.095,"f":"940"},{"t":8.85,"v":0.11,"f":"940"},{"t":8.95,"v":0.1,"f":"940"},{"t":9.05,"v":0.105,"f":"940"},{"t":9.15,"v":0.095,"f":"940"},{"t":15.5,"v":0.095,"f":"940"},{"t":15.55,"v":0.5,"f":"940"},{"t":15.6,"v":1.78,"f":"940"},{"t":15.65,"v":1.2,"f":"940"},{"t":15.7,"v":0.6,"f":"940"},{"t":15.75,"v":0.25,"f":"940"},{"t":15.8,"v":0.11,"f":"940"},{"t":15.85,"v":0.095,"f":"940"},{"t":21.55,"v":0.095,"f":"940"},{"t":21.6,"v":0.3,"f":"940"},{"t":21.65,"v":0.52,"f":"940"},{"t":21.7,"v":0.35,"f":"940"},{"t":21.75,"v":0.2,"f":"940"},{"t":21.8,"v":0.4,"f":"940"},{"t":21.85,"v":0.15,"f":"940"},{"t":21.9,"v":0.1,"f":"940"},{"t":22.0,"v":0.095,"f":"940"},{"t":24,"v":0.095,"f":"940"}
    ]
  },
  "vconcat": [
    {
      "width": 450,
      "height": 278,
      "resolve": {"scale": {"color": "independent"}, "axis": {"x": "independent", "y": "independent"}},
      "layer": [
        {
          "data": {"name": "pts"},
          "mark": {"type": "point", "filled": true, "shape": "M-1,-0.6H1V0.6H-1Z", "size": 13, "opacity": 1},
          "encoding": {
            "x": {"field": "t", "type": "quantitative", "scale": {"domain": [0, 24], "nice": false},
              "axis": {"orient": "bottom", "values": [0,1,2,3,4,5,6,7,8,9,10,11,12,13,14,15,16,17,18,19,20,21,22,23,24], "labels": false, "title": null,
                "tickSize": {"condition": {"test": "datum.value % 6 === 0", "value": 8}, "value": 4}}},
            "y": {"field": "a", "type": "quantitative", "scale": {"domain": [-90, 90], "nice": false},
              "axis": {"orient": "left", "values": [-90,-80,-70,-60,-50,-40,-30,-20,-10,0,10,20,30,40,50,60,70,80,90],
                "labelExpr": "datum.value % 30 === 0 ? '' + datum.value : ''", "title": "Azimuthal angle (deg)", "titlePadding": 10, "labelPadding": 6,
                "tickSize": {"condition": {"test": "datum.value % 30 === 0", "value": 9}, "value": 4}}},
            "color": {"field": "f", "type": "nominal", "legend": null,
              "scale": {"domain": ["52","100","120","148","272","540","940"], "range": ["#ff0000","#ffa500","#cdc000","#00ff00","#00a8ff","#0000ff","#a020f0"]}}
          }
        },
        {
          "data": {"name": "bodies"},
          "mark": {"type": "rule", "strokeWidth": 3},
          "encoding": {
            "x": {"field": "t0", "type": "quantitative",
              "axis": {"orient": "top", "values": [0,1,2,3,4,5,6,7,8,9,10,11,12,13,14,15,16,17,18,19,20,21,22,23,24], "labels": false, "title": null,
                "tickSize": {"condition": {"test": "datum.value % 6 === 0", "value": 8}, "value": 4}}},
            "x2": {"field": "t1"},
            "y": {"field": "a", "type": "quantitative",
              "axis": {"orient": "right", "values": [-90,-80,-70,-60,-50,-40,-30,-20,-10,0,10,20,30,40,50,60,70,80,90], "labels": false, "title": null,
                "tickSize": {"condition": {"test": "datum.value % 30 === 0", "value": 9}, "value": 4}}},
            "color": {"field": "body", "type": "nominal", "legend": null,
              "scale": {"domain": ["Saturn", "Jupiter"], "range": ["#ff0000", "#000000"]}}
          }
        },
        {
          "data": {"name": "bodies"},
          "transform": [{"filter": "datum.t1 === 24"}],
          "mark": {"type": "text", "align": "left", "dx": 2, "fontSize": 14, "fontWeight": "bold", "color": "black"},
          "encoding": {
            "x": {"field": "t1", "type": "quantitative", "axis": null},
            "y": {"field": "a", "type": "quantitative", "axis": null},
            "text": {"field": "body"}
          }
        }
      ]
    },
    {
      "width": 450,
      "height": 210,
      "resolve": {"axis": {"x": "independent", "y": "independent"}},
      "layer": [
        {
          "data": {"name": "flux"},
          "transform": [{"filter": "datum.f !== '940'"}],
          "mark": {"type": "line", "strokeWidth": 2.5},
          "encoding": {
            "x": {"field": "t", "type": "quantitative", "scale": {"domain": [0, 24], "nice": false},
              "axis": {"orient": "bottom", "values": [0,1,2,3,4,5,6,7,8,9,10,11,12,13,14,15,16,17,18,19,20,21,22,23,24],
                "labelExpr": "datum.value % 6 === 0 ? datum.label : ''", "title": "time - hours on 2002-01-02", "labelPadding": 8, "titlePadding": 6,
                "tickSize": {"condition": {"test": "datum.value % 6 === 0", "value": 8}, "value": 4}}},
            "y": {"field": "v", "type": "quantitative", "scale": {"type": "log", "domain": [0.01, 10], "nice": false},
              "axis": {"orient": "left", "values": [0.01,0.0215,0.0464,0.1,0.215,0.464,1,2.15,4.64,10], "format": ".2f",
                "labelExpr": "abs(log(datum.value)/LN10 - round(log(datum.value)/LN10)) < 0.01 ? datum.label : ''",
                "title": "Intensity (microvolt/sqrt(Hz))", "titlePadding": 12, "labelPadding": 5,
                "tickSize": {"condition": {"test": "abs(log(datum.value)/LN10 - round(log(datum.value)/LN10)) < 0.01", "value": 10}, "value": 4}}},
            "color": {"field": "f", "type": "nominal", "legend": null, "sort": null,
              "scale": {"domain": ["52","100","120","148","272","540","940"], "range": ["#ff0000","#ffa500","#cdc000","#00ff00","#00a8ff","#0000ff","#a020f0"]}}
          }
        },
        {
          "data": {"name": "flux"},
          "transform": [{"filter": "datum.f === '940'"}],
          "mark": {"type": "line", "strokeWidth": 2.5},
          "encoding": {
            "x": {"field": "t", "type": "quantitative",
              "axis": {"orient": "top", "values": [0,1,2,3,4,5,6,7,8,9,10,11,12,13,14,15,16,17,18,19,20,21,22,23,24], "labels": false, "title": null,
                "tickSize": {"condition": {"test": "datum.value % 6 === 0", "value": 8}, "value": 4}}},
            "y": {"field": "v", "type": "quantitative",
              "axis": {"orient": "right", "values": [0.01,0.0215,0.0464,0.1,0.215,0.464,1,2.15,4.64,10], "labels": false, "title": null,
                "tickSize": {"condition": {"test": "abs(log(datum.value)/LN10 - round(log(datum.value)/LN10)) < 0.01", "value": 10}, "value": 4}}},
            "color": {"field": "f", "type": "nominal", "legend": null}
          }
        }
      ]
    },
    {
      "width": 350,
      "height": 100,
      "layer": [
        {
          "data": {"name": "freqs"},
          "mark": {"type": "text", "align": "left", "dx": 105, "fontSize": 14, "fontWeight": "bold"},
          "encoding": {
            "x": {"field": "f", "type": "ordinal", "sort": null, "bandPosition": 0, "axis": null,
              "scale": {"domain": ["52","100","120","148","272","540","940"], "paddingInner": 0, "paddingOuter": 0}},
            "text": {"field": "f"},
            "color": {"field": "f", "type": "nominal", "legend": null,
              "scale": {"domain": ["52","100","120","148","272","540","940"], "range": ["#ff0000","#ffa500","#cdc000","#00ff00","#00a8ff","#0000ff","#a020f0"]}}
          }
        },
        {
          "data": {"values": [{"lbl": "Frequencies (kHz):"}]},
          "mark": {"type": "text", "align": "right", "dx": 97, "fontSize": 14, "fontWeight": "bold", "color": "black"},
          "encoding": {
            "x": {"datum": "52", "type": "ordinal", "bandPosition": 0},
            "text": {"field": "lbl"}
          }
        }
      ]
    }
  ]
}
